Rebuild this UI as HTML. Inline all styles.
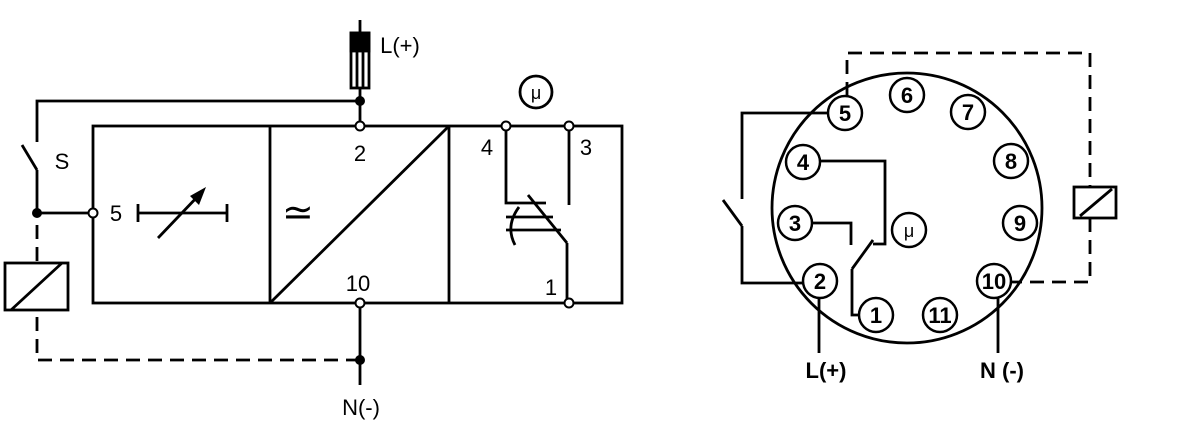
<!DOCTYPE html>
<html><head><meta charset="utf-8"><style>
html,body{margin:0;padding:0;background:#fff;}
svg{display:block;}
text{font-family:"Liberation Sans",sans-serif;fill:#000;}
</style></head><body>
<svg width="1194" height="441" viewBox="0 0 1194 441" xmlns="http://www.w3.org/2000/svg">
<g stroke="#000" stroke-width="2.8" fill="none">
<rect x="93" y="126" width="529" height="177"/>
<line x1="270" y1="126" x2="270" y2="303"/>
<line x1="449" y1="126" x2="449" y2="303"/>
<line x1="270" y1="303" x2="449" y2="126"/>
<line x1="360" y1="20" x2="360" y2="126"/>
<rect x="351" y="33" width="18" height="55" fill="#fff"/>
<rect x="351" y="33" width="18" height="18" fill="#000"/>
<line x1="357" y1="51" x2="357" y2="88"/><line x1="363" y1="51" x2="363" y2="88"/>
<polyline points="360,101 37,101 37,142"/>
<line x1="22" y1="145" x2="37" y2="170"/>
<polyline points="37,170 37,213 93,213"/>
<line x1="37" y1="225" x2="37" y2="263" stroke-dasharray="14,8"/>
<rect x="5" y="263" width="63" height="47"/>
<line x1="11" y1="310" x2="62" y2="263"/>
<polyline points="37,317 37,360 360,360" stroke-dasharray="14,8"/>
<line x1="360" y1="303" x2="360" y2="385"/>
<line x1="138" y1="213" x2="227" y2="213"/>
<line x1="138" y1="204" x2="138" y2="222"/><line x1="227" y1="204" x2="227" y2="222"/>
<line x1="158" y1="238" x2="200" y2="194"/>
<polyline points="506,126 506,203 546,203"/>
<line x1="528" y1="195" x2="567" y2="243"/>
<line x1="567" y1="243" x2="567" y2="303"/>
<line x1="569" y1="126" x2="569" y2="205"/>
<line x1="506" y1="217" x2="553" y2="217"/>
<line x1="506" y1="230" x2="561" y2="230"/>
<path d="M519,207 Q505,226 515,245"/>
<circle cx="536" cy="92" r="16"/>
</g>
<polygon points="206,187 190,196 199,205" fill="#000"/>
<g fill="#000">
<circle cx="360" cy="101" r="5"/><circle cx="37" cy="213" r="5"/><circle cx="360" cy="360" r="5"/>
</g>
<g fill="#fff" stroke="#000" stroke-width="2">
<circle cx="360" cy="126" r="4.5"/><circle cx="360" cy="303" r="4.5"/><circle cx="93" cy="213" r="4.5"/>
<circle cx="506" cy="126" r="4.5"/><circle cx="569" cy="126" r="4.5"/><circle cx="569" cy="303" r="4.5"/>
</g>
<g font-size="22" text-anchor="middle">
<text x="400" y="53">L(+)</text>
<text x="62" y="169">S</text>
<text x="116" y="221">5</text>
<text x="360" y="161">2</text>
<text x="358" y="291">10</text>
<text x="487" y="155">4</text>
<text x="586" y="155">3</text>
<text x="551" y="295">1</text>
<text x="361" y="415">N(-)</text>
<text x="536" y="99" font-size="18">μ</text>
</g>
<text x="282" y="225" font-size="38">≃</text>

<g stroke="#000" stroke-width="2.8" fill="none">
<circle cx="907" cy="208" r="135"/>
<polyline points="847,96 847,53 1090,53 1090,187" stroke-dasharray="14,8"/>
<rect x="1074" y="187" width="42" height="31"/>
<line x1="1080" y1="216" x2="1112" y2="189"/>
<polyline points="1090,218 1090,282 1012,282" stroke-dasharray="14,8"/>
<polyline points="829,113 742,113 742,199"/>
<line x1="723" y1="200" x2="742" y2="226"/>
<polyline points="742,226 742,283 803,283"/>
<line x1="819" y1="298" x2="819" y2="353"/>
<line x1="998" y1="298" x2="998" y2="353"/>
<polyline points="820,161 885,161 885,244 873,244"/>
<line x1="873" y1="240" x2="852" y2="269"/>
<polyline points="852,269 852,315 860,315"/>
<polyline points="812,223 851,223 851,245"/>
</g>
<g fill="#fff" stroke="#000" stroke-width="2.5">
<circle cx="845" cy="113" r="17"/><circle cx="907" cy="95" r="17"/><circle cx="968" cy="112" r="17"/>
<circle cx="1011" cy="161" r="17"/><circle cx="1020" cy="223" r="17"/><circle cx="994" cy="281" r="17"/>
<circle cx="940" cy="315" r="17"/><circle cx="876" cy="315" r="17"/><circle cx="820" cy="281" r="17"/>
<circle cx="795" cy="223" r="17"/><circle cx="803" cy="162" r="17"/><circle cx="909" cy="230" r="17"/>
</g>
<g font-size="22" font-weight="bold" text-anchor="middle">
<text x="845" y="121">5</text><text x="907" y="103">6</text><text x="968" y="120">7</text>
<text x="1011" y="169">8</text><text x="1020" y="231">9</text><text x="994" y="289">10</text>
<text x="940" y="323">11</text><text x="876" y="323">1</text><text x="820" y="289">2</text>
<text x="795" y="231">3</text><text x="803" y="170">4</text>
<text x="826" y="378">L(+)</text><text x="1002" y="378">N (-)</text>
</g>
<text x="909" y="237" font-size="18" text-anchor="middle">μ</text>
</svg>
</body></html>
